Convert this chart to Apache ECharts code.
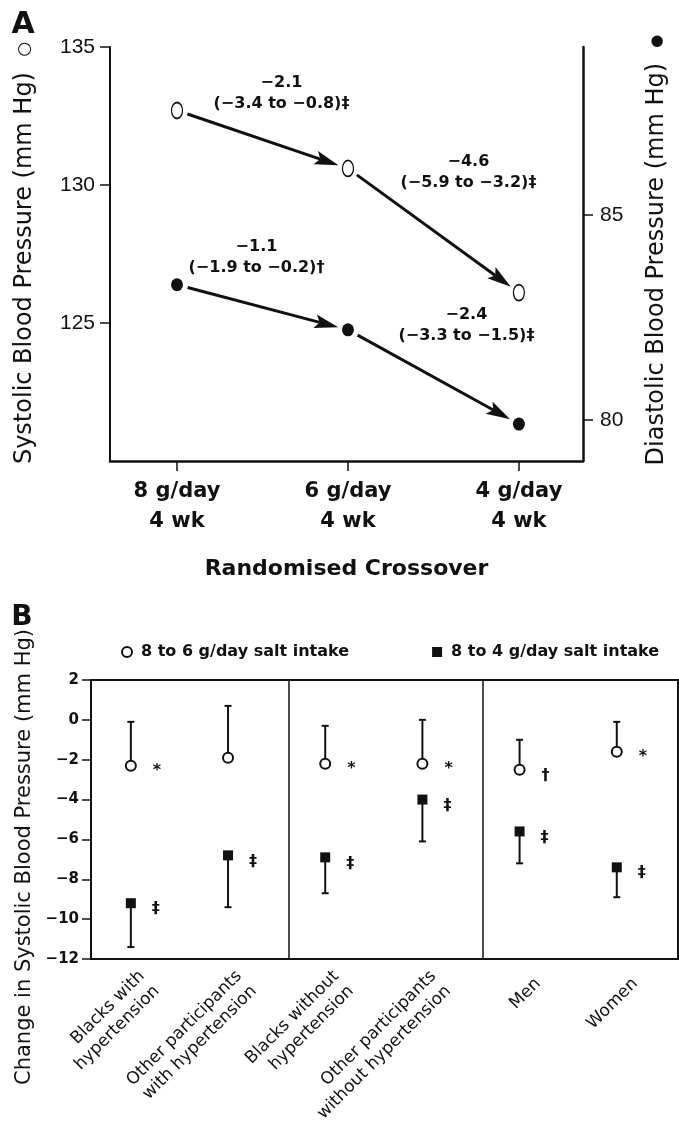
<!DOCTYPE html>
<html><head><meta charset="utf-8">
<script src="https://cdn.jsdelivr.net/npm/echarts@6/dist/echarts.min.js"></script>
<style>html,body{margin:0;padding:0;background:#fff}#c{width:679px;height:1123px}</style>
</head><body><div id="c"></div>
<script>
// ---------- Panel A data ----------
const doseLabels = ['8 g/day\n4 wk', '6 g/day\n4 wk', '4 g/day\n4 wk'];
const systolic = [132.7, 130.6, 126.1];
const diastolic = [83.3, 82.2, 79.9];
const systolicChange = [-2.1, -4.6];
const systolicCI = [[-3.4, -0.8], [-5.9, -3.2]];
const systolicSig = ['‡', '‡'];
const diastolicChange = [-1.1, -2.4];
const diastolicCI = [[-1.9, -0.2], [-3.3, -1.5]];
const diastolicSig = ['†', '‡'];
const systolicTicks = [125, 130, 135];
const diastolicTicks = [80, 85];

// ---------- Panel B data ----------
const groups = ['Blacks with\nhypertension', 'Other participants\nwith hypertension',
  'Blacks without\nhypertension', 'Other participants\nwithout hypertension', 'Men', 'Women'];
const change86 = [-2.3, -1.9, -2.2, -2.2, -2.5, -1.6];
const upper86 = [-0.1, 0.7, -0.3, 0.0, -1.0, -0.1];
const sig86 = ['*', '', '*', '*', '†', '*'];
const change84 = [-9.2, -6.8, -6.9, -4.0, -5.6, -7.4];
const lower84 = [-11.4, -9.4, -8.7, -6.1, -7.2, -8.9];
const sig84 = ['‡', '‡', '‡', '‡', '‡', '‡'];
const groupBoundaries = [1, 3];   // dividers after these categories
const legendNames = ['8 to 6 g/day salt intake', '8 to 4 g/day salt intake'];

// ---------- layout / style ----------
const INK = '#111';
const FONT = '"DejaVu Sans", sans-serif';
const LABEL_SHIFT = 0.19;
const DIV_SHIFT = 0.62;
const annotOffsetSys = [[19, -46], [35, -58]];
const annotOffsetDia = [[-6, -50], [33, -52]];
const sigOffset = {'*': [0, 5], '†': [0, 6], '‡': [0, 6], '': [0, 0]};
const fmt = v => v.toFixed(1).replace('-', '\u2212');

function arrowSeries(values, changes, cis, sigs, yAxisIndex, offsets) {
  const data = [];
  for (let i = 0; i < values.length - 1; i++) data.push([i, values[i], i + 1, values[i + 1], i]);
  return {
    type: 'custom', xAxisIndex: 0, yAxisIndex: yAxisIndex, data: data, silent: true, z: 2,
    renderItem: function (params, api) {
      const k = api.value(4);
      const p0 = api.coord([api.value(0), api.value(1)]);
      const p1 = api.coord([api.value(2), api.value(3)]);
      const dx = p1[0] - p0[0], dy = p1[1] - p0[1];
      const L = Math.hypot(dx, dy), ux = dx / L, uy = dy / L, nx = -uy, ny = ux;
      const sGap = 11, eGap = 10, hl = 24, hw = 7;
      const s = [p0[0] + ux * sGap, p0[1] + uy * sGap];
      const tip = [p1[0] - ux * eGap, p1[1] - uy * eGap];
      const base = [tip[0] - ux * hl, tip[1] - uy * hl];
      const notch = [tip[0] - ux * hl * 0.8, tip[1] - uy * hl * 0.8];
      const a = [base[0] + nx * hw, base[1] + ny * hw];
      const b = [base[0] - nx * hw, base[1] - ny * hw];
      const mid = [(p0[0] + p1[0]) / 2, (p0[1] + p1[1]) / 2];
      const off = offsets[k];
      const text = fmt(changes[k]) + '\n(' + fmt(cis[k][0]) + ' to ' + fmt(cis[k][1]) + ')' + sigs[k];
      return {
        type: 'group', children: [
          {type: 'line', shape: {x1: s[0], y1: s[1], x2: notch[0], y2: notch[1]}, style: {stroke: INK, lineWidth: 3}},
          {type: 'polygon', shape: {points: [tip, a, notch, b]}, style: {fill: INK}},
          {type: 'text', x: mid[0] + off[0], y: mid[1] + off[1], style: {
            text: text, textAlign: 'center', textVerticalAlign: 'middle',
            font: 'bold 16px ' + FONT, lineHeight: 21, fill: INK}}
        ]
      };
    }
  };
}

function whiskerSeries(vals, ends) {
  return {
    type: 'custom', xAxisIndex: 1, yAxisIndex: 2, silent: true, z: 2,
    data: vals.map((v, i) => [i, v, ends[i]]),
    renderItem: function (params, api) {
      const p = api.coord([api.value(0), api.value(1)]);
      const e = api.coord([api.value(0), api.value(2)]);
      return {type: 'group', children: [
        {type: 'line', shape: {x1: p[0], y1: p[1], x2: e[0], y2: e[1]}, style: {stroke: INK, lineWidth: 2}},
        {type: 'line', shape: {x1: e[0] - 3.5, y1: e[1], x2: e[0] + 3.5, y2: e[1]}, style: {stroke: INK, lineWidth: 2}}
      ]};
    }
  };
}

function sigData(vals, sigs) {
  return vals.map((v, i) => ({
    value: [i, v],
    label: {formatter: sigs[i], offset: sigOffset[sigs[i]]}
  }));
}

const chart = echarts.init(document.getElementById('c'), null, {renderer: 'canvas'});
chart.setOption({
  animation: false,
  backgroundColor: '#fff',
  grid: [
    {left: 110, right: 96, top: 47, height: 414, outerBoundsMode: 'none'},
    {left: 91, right: 1, top: 680, height: 279, show: true, borderColor: INK, borderWidth: 2, outerBoundsMode: 'none'}
  ],
  legend: {
    data: [{name: legendNames[0], icon: 'circle'}, {name: legendNames[1], icon: 'rect'}],
    left: 121, top: 644, padding: 0, itemWidth: 10, itemHeight: 10, itemGap: 83,
    selectedMode: false,
    textStyle: {fontFamily: FONT, fontWeight: 'bold', fontSize: 16, color: INK, padding: [0, 0, 0, 4]}
  },
  xAxis: [
    {gridIndex: 0, type: 'value', min: -0.392, max: 2.375,
      axisLine: {show: true, onZero: false, lineStyle: {color: INK, width: 2.5}},
      axisTick: {show: true, customValues: [0, 1, 2], length: 10, lineStyle: {color: INK, width: 1.5}},
      axisLabel: {customValues: [0, 1, 2], formatter: v => doseLabels[Math.round(v)], margin: 16,
        fontFamily: FONT, fontWeight: 'bold', fontSize: 21, lineHeight: 30, color: INK},
      splitLine: {show: false},
      name: 'Randomised Crossover', nameLocation: 'middle', nameGap: 97,
      nameTextStyle: {fontFamily: FONT, fontWeight: 'bold', fontSize: 22, color: INK}},
    {gridIndex: 1, type: 'value', min: -0.41, max: 5.63,
      axisLine: {show: true, onZero: false, lineStyle: {color: INK, width: 2}},
      axisTick: {show: false}, splitLine: {show: false},
      axisLabel: {customValues: groups.map((g, i) => i + LABEL_SHIFT),
        formatter: v => groups[Math.round(v - LABEL_SHIFT)], rotate: 45, margin: 22,
        fontFamily: FONT, fontSize: 17, lineHeight: 21, color: INK}}
  ],
  yAxis: [
    {gridIndex: 0, type: 'value', position: 'left', min: 120, max: 135,
      axisLine: {show: true, onZero: false, lineStyle: {color: INK, width: 2}},
      axisTick: {show: true, customValues: systolicTicks, length: 10, lineStyle: {color: INK, width: 1.5}},
      axisLabel: {customValues: systolicTicks, margin: 15, fontFamily: 'Liberation Sans', fontSize: 21, color: INK},
      splitLine: {show: false}},
    {gridIndex: 0, type: 'value', position: 'right', min: 79, max: 89.1,
      axisLine: {show: true, onZero: false, lineStyle: {color: INK, width: 2.5}},
      axisTick: {show: true, customValues: diastolicTicks, length: 10, lineStyle: {color: INK, width: 1.5}},
      axisLabel: {customValues: diastolicTicks, margin: 17, fontFamily: 'Liberation Sans', fontSize: 21, color: INK},
      splitLine: {show: false}},
    {gridIndex: 1, type: 'value', min: -12, max: 2, interval: 2,
      axisLine: {show: true, onZero: false, lineStyle: {color: INK, width: 2}},
      axisTick: {show: true, length: 9, lineStyle: {color: INK, width: 1.5}},
      axisLabel: {margin: 12, formatter: v => String(v).replace('-', '\u2212'),
        fontFamily: FONT, fontWeight: 'bold', fontSize: 15, color: INK},
      splitLine: {show: false}}
  ],
  graphic: [
    {type: 'text', x: 23, y: 25, style: {text: 'A', textAlign: 'center', textVerticalAlign: 'middle', font: 'bold 30px ' + FONT, fill: INK}},
    {type: 'text', x: 22, y: 618, style: {text: 'B', textAlign: 'center', textVerticalAlign: 'middle', font: 'bold 28px ' + FONT, fill: INK}},
    {type: 'text', x: 25, y: 253, rotation: Math.PI / 2, style: {text: 'Systolic Blood Pressure (mm Hg)  {s|\u25CB}',
      textAlign: 'center', textVerticalAlign: 'middle', fontFamily: FONT, fontSize: 24, fill: INK,
      rich: {s: {fontFamily: FONT, fontSize: 17, fill: INK}}}},
    {type: 'text', x: 657, y: 250, rotation: Math.PI / 2, style: {text: 'Diastolic Blood Pressure (mm Hg)  {s|\u25CF}',
      textAlign: 'center', textVerticalAlign: 'middle', fontFamily: FONT, fontSize: 24, fill: INK,
      rich: {s: {fontFamily: FONT, fontSize: 15, fill: INK}}}},
    {type: 'text', x: 25, y: 857, rotation: Math.PI / 2, style: {text: 'Change in Systolic Blood Pressure (mm Hg)', textAlign: 'center', textVerticalAlign: 'middle', font: '21px ' + FONT, fill: INK}}
  ],
  series: [
    arrowSeries(systolic, systolicChange, systolicCI, systolicSig, 0, annotOffsetSys),
    arrowSeries(diastolic, diastolicChange, diastolicCI, diastolicSig, 1, annotOffsetDia),
    {type: 'scatter', xAxisIndex: 0, yAxisIndex: 0, z: 3, silent: true,
      data: systolic.map((v, i) => [i, v]), symbol: 'circle', symbolSize: [11, 16],
      itemStyle: {color: '#fff', borderColor: INK, borderWidth: 1.5, opacity: 1}},
    {type: 'scatter', xAxisIndex: 0, yAxisIndex: 1, z: 3, silent: true,
      data: diastolic.map((v, i) => [i, v]), symbol: 'circle', symbolSize: [12, 13],
      itemStyle: {color: INK, opacity: 1}},
    whiskerSeries(change86, upper86),
    whiskerSeries(change84, lower84),
    {type: 'scatter', name: legendNames[0], xAxisIndex: 1, yAxisIndex: 2, z: 3, silent: true,
      data: sigData(change86, sig86), symbol: 'circle', symbolSize: 10,
      itemStyle: {color: '#fff', borderColor: INK, borderWidth: 2, opacity: 1},
      label: {show: true, position: 'right', distance: 16, fontFamily: FONT, fontWeight: 'bold', fontSize: 16, color: INK},
      markLine: {silent: true, symbol: 'none', label: {show: false},
        lineStyle: {color: INK, width: 1.5, type: 'solid'},
        data: groupBoundaries.map(b => ({xAxis: b + DIV_SHIFT}))}},
    {type: 'scatter', name: legendNames[1], xAxisIndex: 1, yAxisIndex: 2, z: 3, silent: true,
      data: sigData(change84, sig84), symbol: 'rect', symbolSize: 10,
      itemStyle: {color: INK, opacity: 1},
      label: {show: true, position: 'right', distance: 16, fontFamily: FONT, fontWeight: 'bold', fontSize: 16, color: INK}}
  ]
});
</script></body></html>
